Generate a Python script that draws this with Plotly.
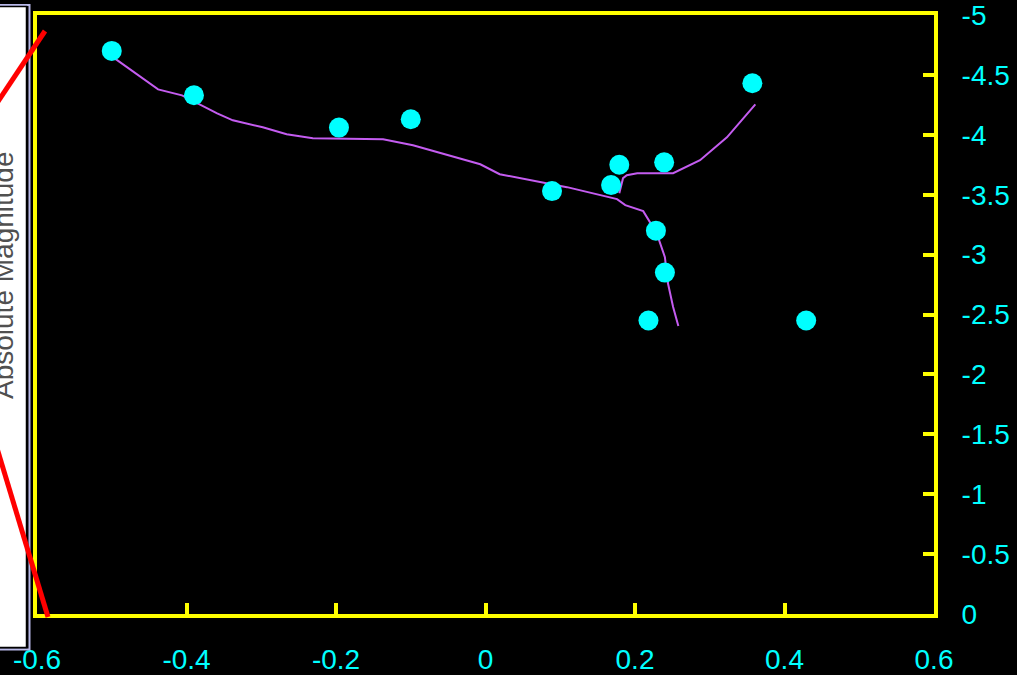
import plotly.graph_objects as go

# ---- data ----
star_bv = [-0.50, -0.39, -0.196, -0.10, 0.089, 0.168, 0.179, 0.239, 0.357, 0.228, 0.240, 0.218, 0.429]
star_mag = [-4.70, -4.33, -4.06, -4.13, -3.53, -3.58, -3.75, -3.77, -4.43, -3.20, -2.85, -2.45, -2.45]

iso_main_bv = [-0.498, -0.438, -0.406, -0.359, -0.338, -0.298, -0.266, -0.231, -0.137, -0.097,
               -0.007, 0.019, 0.109, 0.176, 0.187, 0.211, 0.229, 0.240, 0.244, 0.251, 0.258]
iso_main_mag = [-4.646, -4.379, -4.329, -4.179, -4.121, -4.063, -4.004, -3.971, -3.963, -3.913,
                -3.754, -3.671, -3.563, -3.463, -3.413, -3.363, -3.179, -2.979, -2.763, -2.563, -2.404]

iso_branch_bv = [0.179, 0.182, 0.184, 0.189, 0.203, 0.251, 0.287, 0.323, 0.361]
iso_branch_mag = [-3.513, -3.593, -3.638, -3.663, -3.679, -3.679, -3.788, -3.979, -4.254]

x_tickvals = [-0.6, -0.4, -0.2, 0, 0.2, 0.4, 0.6]
x_ticktext = ["-0.6", "-0.4", "-0.2", "0", "0.2", "0.4", "0.6"]
y_tickvals = [0, -0.5, -1, -1.5, -2, -2.5, -3, -3.5, -4, -4.5, -5]
y_ticktext = ["0", "-0.5", "-1", "-1.5", "-2", "-2.5", "-3", "-3.5", "-4", "-4.5", "-5"]

y_title = "Absolute Magnitude"

# ---- layout geometry (pixels) ----
W, H = 1017, 675
L, R, T, B = 37, 83, 15, 61
PW = W - L - R
PH = H - T - B


def px(x):
    return (x - L) / PW


def py(y):
    return (H - B - y) / PH


FONT = "Liberation Sans, Arial, sans-serif"
CYAN = "#00ffff"
YELLOW = "#ffff00"

fig = go.Figure()
fig.add_trace(go.Scatter(x=iso_main_bv, y=iso_main_mag, mode="lines",
                         line=dict(color="#c45cf0", width=2), hoverinfo="skip"))
fig.add_trace(go.Scatter(x=iso_branch_bv, y=iso_branch_mag, mode="lines",
                         line=dict(color="#c45cf0", width=2), hoverinfo="skip"))
fig.add_trace(go.Scatter(x=star_bv, y=star_mag, mode="markers",
                         marker=dict(color=CYAN, size=20, line=dict(width=0))))

axis_common = dict(showgrid=False, zeroline=False, showline=True, linecolor=YELLOW,
                   linewidth=4, mirror=True, ticks="inside", ticklen=11, tickwidth=4,
                   tickcolor=YELLOW, automargin=False, ticklabeloverflow="allow",
                   tickfont=dict(family=FONT, size=28, color=CYAN))

fig.update_layout(
    width=W, height=H,
    margin=dict(l=L, r=R, t=T, b=B, pad=0, autoexpand=False),
    paper_bgcolor="black", plot_bgcolor="black",
    showlegend=False,
    xaxis=dict(range=[-0.6, 0.6], tickvals=x_tickvals, ticktext=x_ticktext,
               ticklabelstandoff=17, **axis_common),
    yaxis=dict(range=[0, -5], side="right", tickvals=y_tickvals, ticktext=y_ticktext,
               ticklabelstandoff=18, **axis_common),
    shapes=[
        dict(type="rect", xref="paper", yref="paper", x0=px(-3), x1=px(29.5), y0=py(649.5), y1=py(5),
             line=dict(color="#b8b8e8", width=2), fillcolor="rgba(0,0,0,0)", layer="above"),
        dict(type="rect", xref="paper", yref="paper", x0=px(-3), x1=px(26.5), y0=py(647.5), y1=py(6.5),
             line=dict(color="black", width=1.5), fillcolor="white", layer="above"),
        dict(type="line", xref="paper", yref="paper", x0=px(45), y0=py(31), x1=px(-40), y1=py(158.5),
             line=dict(color="#ff0000", width=5), layer="above"),
        dict(type="line", xref="paper", yref="paper", x0=px(48), y0=py(617), x1=px(-40), y1=py(325.7),
             line=dict(color="#ff0000", width=5), layer="above"),
    ],
    annotations=[
        dict(text=y_title, xref="paper", yref="paper", x=px(3), y=py(275),
             xanchor="center", yanchor="middle", textangle=-90, showarrow=False,
             font=dict(family=FONT, size=28, color="#505050")),
    ],
)

fig.write_html("out.html")
